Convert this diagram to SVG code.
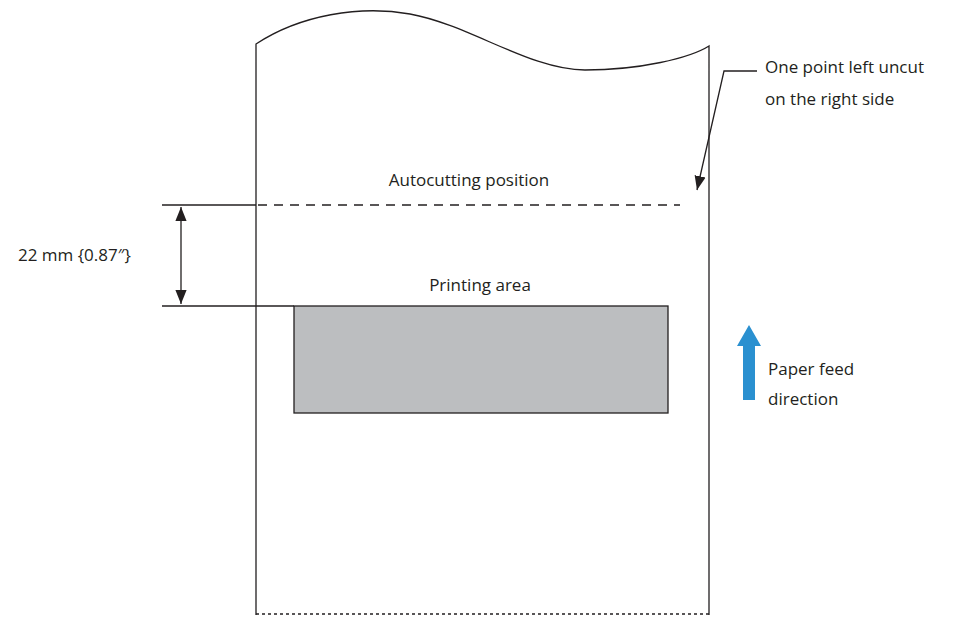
<svg xmlns="http://www.w3.org/2000/svg" width="957" height="620" viewBox="0 0 957 620">
<style>
.l{stroke:#231f20;stroke-width:1.3;fill:none}
text{font-family:"Open Sans","Liberation Sans",sans-serif;font-size:17px;fill:#231f20}
</style>
<defs>
<marker id="ah2" viewBox="0 0 10 10" refX="10" refY="5" markerWidth="14" markerHeight="14" markerUnits="userSpaceOnUse" orient="auto-start-reverse"><path d="M0,1 L10,5 L0,9 z" fill="#231f20"/></marker>
</defs>
<g id="paper">
<path class="l" d="M256,615 L256,44 C300,15 360,5 410,14 C470,25 530,70 585,70 C640,70 690,58 709,46 L709,615"/>
<line class="l" x1="256" y1="614" x2="709" y2="614" stroke-dasharray="3,3"/>
</g>
<g id="cut">
<line class="l" x1="258" y1="205" x2="680" y2="205" stroke-dasharray="9,7"/>
<text x="469" y="186" text-anchor="middle">Autocutting position</text>
</g>
<g id="printing">
<rect x="294" y="306" width="374" height="107" fill="#bcbec0" stroke="#231f20" stroke-width="1.3"/>
<text x="480" y="291" text-anchor="middle">Printing area</text>
</g>
<g id="dimension">
<text x="18" y="261">22 mm {0.87″}</text>
</g>
<g id="uncut">
<text x="765" y="73">One point left uncut</text>
<text x="765" y="105">on the right side</text>
</g>
<g id="feed">
<path d="M743,400 L743,346 L737,346 L749,325 L761,346 L755,346 L755,400 z" fill="#2a90d0"/>
<text x="768" y="375">Paper feed</text>
<text x="768" y="405">direction</text>
</g>
<g id="connectors">
<line class="l" x1="162" y1="205" x2="256" y2="205"/>
<line class="l" x1="162" y1="306" x2="294" y2="306"/>
<line class="l" x1="181" y1="207" x2="181" y2="304" marker-start="url(#ah2)" marker-end="url(#ah2)"/>
<path class="l" d="M757,71 L724,71 L697,190" marker-end="url(#ah2)"/>
</g>
</svg>
